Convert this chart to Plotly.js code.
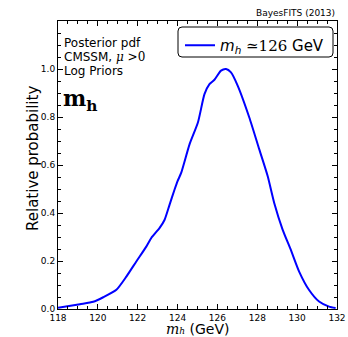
<!DOCTYPE html>
<html><head><meta charset="utf-8">
<script src="https://cdn.plot.ly/plotly-3.0.1.min.js"></script>
<style>html,body{margin:0;padding:0;background:#fff}#c{width:348px;height:337px}</style>
</head><body><div id="c"></div>
<script>
const mh = [118.0, 119.1, 119.77, 120.27, 120.93, 121.43, 121.93, 122.43, 122.68, 123.1, 123.35, 123.6, 123.85, 124.0, 124.18, 124.6, 125.02, 125.35, 125.6, 125.85, 126.18, 126.43, 126.68, 127.02, 127.6, 128.1, 128.52, 128.85, 129.27, 129.68, 130.1, 130.6, 131.1, 131.6, 131.93];
const prob = [0.005, 0.02, 0.03, 0.049, 0.08, 0.135, 0.198, 0.26, 0.296, 0.338, 0.372, 0.435, 0.498, 0.533, 0.567, 0.686, 0.777, 0.895, 0.937, 0.955, 0.993, 1.0, 0.986, 0.93, 0.798, 0.665, 0.554, 0.442, 0.331, 0.247, 0.156, 0.079, 0.031, 0.01, 0.004];
const yTicks = [0.0, 0.2, 0.4, 0.6, 0.8, 1.0];
const xTicks = [118, 120, 122, 124, 126, 128, 130, 132];
const seriesName = "<i>m<sub>h</sub></i><span style='font-family:DejaVu Serif'> ≃126</span> GeV";

const W = 348, H = 337, mL = 58, mR = 11, mT = 21, mB = 28;
const pw = W - mL - mR, ph = H - mT - mB;
function px(x){return (x - mL)/pw;}
function py(y){return (H - mB - y)/ph;}
function roundRect(x0,y0,x1,y1,r){
  const rx=r/pw, ry=r/ph;
  const X0=px(x0),X1=px(x1),Yt=py(y0),Yb=py(y1);
  return `M${X0+rx},${Yt} L${X1-rx},${Yt} Q${X1},${Yt} ${X1},${Yt-ry} L${X1},${Yb+ry} Q${X1},${Yb} ${X1-rx},${Yb} L${X0+rx},${Yb} Q${X0},${Yb} ${X0},${Yb+ry} L${X0},${Yt-ry} Q${X0},${Yt} ${X0+rx},${Yt} Z`;
}

const font = "DejaVu Sans, sans-serif";
const axisCommon = {
  showgrid:false, zeroline:false, showline:true, linecolor:'#000', linewidth:1, mirror:'allticks',
  ticks:'inside', ticklen:5, tickwidth:1, tickcolor:'#000', automargin:false,
  tickfont:{family:font,size:9,color:'#000'},
};
const layout = {
  width:W, height:H, margin:{l:mL,r:mR,t:mT,b:mB},
  paper_bgcolor:'#fff', plot_bgcolor:'#fff',
  showlegend:true,
  legend:{x:px(180), y:py(29), xanchor:'left', yanchor:'top', bgcolor:'rgba(0,0,0,0)', borderwidth:0,
          font:{family:font,size:15,color:'#000'}, itemwidth:30},
  xaxis:Object.assign({}, axisCommon, {range:[118,132], tickmode:'array', tickvals:xTicks,
    minor:{dtick:0.5, ticks:'inside', ticklen:3, tickcolor:'#000'}}),
  yaxis:Object.assign({}, axisCommon, {range:[0,1.2], tickmode:'array', tickvals:yTicks, tickformat:'.1f',
    minor:{dtick:0.05, ticks:'inside', ticklen:3, tickcolor:'#000'}}),
  shapes:[{type:'path', xref:'paper', yref:'paper', path:roundRect(178,27,333,57,4), line:{color:'#000',width:1}, fillcolor:'rgba(0,0,0,0)'}],
  annotations:[
    {xref:'paper',yref:'paper',x:0.5,y:py(328.5),xanchor:'center',yanchor:'middle',showarrow:false,borderpad:0,text:"<i style='font-family:DejaVu Serif'>m<span style='font-size:9px'>h</span></i> (GeV)",font:{family:font,size:14,color:'#000'}},
    {xref:'paper',yref:'paper',x:px(33),y:py(159),xanchor:'center',yanchor:'middle',showarrow:false,textangle:-90,text:"Relative probability",font:{family:font,size:15,color:'#000'}},
    {xref:'paper',yref:'paper',x:1,y:py(13),xanchor:'right',yanchor:'middle',showarrow:false,text:"BayesFITS (2013)",font:{family:font,size:9,color:'#000'}},
    {xref:'paper',yref:'paper',x:px(62),y:py(43),xanchor:'left',yanchor:'middle',showarrow:false,text:"Posterior pdf",font:{family:font,size:12,color:'#000'}},
    {xref:'paper',yref:'paper',x:px(62),y:py(57),xanchor:'left',yanchor:'middle',showarrow:false,text:"CMSSM, <i style='font-family:DejaVu Serif'>μ</i><span style='font-family:DejaVu Serif'> >0</span>",font:{family:font,size:12,color:'#000'}},
    {xref:'paper',yref:'paper',x:px(62),y:py(71),xanchor:'left',yanchor:'middle',showarrow:false,text:"Log Priors",font:{family:font,size:12,color:'#000'}},
    {xref:'paper',yref:'paper',x:px(61),y:py(100),xanchor:'left',yanchor:'middle',showarrow:false,text:"<b>m<sub>h</sub></b>",font:{family:"DejaVu Serif, serif",size:22,color:'#000'}}
  ]
};
const data = [{x:mh, y:prob, type:'scatter', mode:'lines', name:seriesName, line:{color:'#0000ff', width:2, shape:'spline', smoothing:0.6}}];
Plotly.newPlot('c', data, layout, {displayModeBar:false, staticPlot:true});
</script></body></html>
